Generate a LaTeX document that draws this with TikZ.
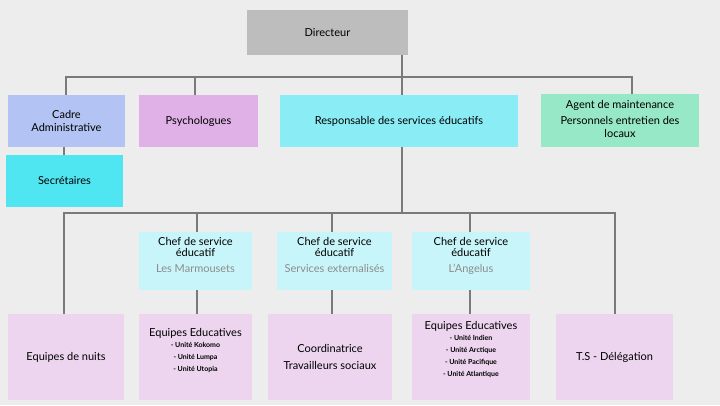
\documentclass[tikz,border=0pt]{standalone}
\usepackage{fontspec}
\setmainfont{Lato}
\definecolor{bg}{HTML}{EDEDED}
\definecolor{cdir}{HTML}{BDBDBD}
\definecolor{ccad}{HTML}{B3C3F3}
\definecolor{csec}{HTML}{4FE6F2}
\definecolor{cpsy}{HTML}{DFB1E6}
\definecolor{cres}{HTML}{8AEDF5}
\definecolor{cage}{HTML}{97E8C6}
\definecolor{cchef}{HTML}{C8F5F9}
\definecolor{cbot}{HTML}{EDD5F0}
\definecolor{cline}{HTML}{7A7A7A}
\definecolor{cgrey}{HTML}{8C8C8C}
\begin{document}
\begin{tikzpicture}[x=1pt,y=-1pt,
  ln/.style={draw=cline,line width=1.6pt}]
\fill[bg] (0,0) rectangle (720,405);
\useasboundingbox (0,0) rectangle (720,405);
\newcommand\bbox[7]{\fill[#6] (#2,#3) rectangle (#4,#5); \node[inner sep=0pt,align=center,font=\fontsize{11}{13}\selectfont] (#1) at ({(#2+#4)/2},{(#3+#5)/2}) {#7};}
\newcommand\unitf{\fontsize{7}{9}\selectfont\bfseries}
\draw[ln] (402,55) -- (402,77);
\draw[ln] (66,95) -- (66,77) -- (632,77) -- (632,94);
\draw[ln] (195,77) -- (195,95);
\draw[ln] (402,77) -- (402,95);
\draw[ln] (64,147) -- (64,155);
\draw[ln] (402,147) -- (402,213);
\draw[ln] (64,314) -- (64,213) -- (615,213) -- (615,314);
\draw[ln] (197,213) -- (197,314);
\draw[ln] (332,213) -- (332,314);
\draw[ln] (470,213) -- (470,314);
\bbox{dir}{247}{10}{408}{55}{cdir}{Directeur}
\bbox{cad}{8}{95}{125}{147}{ccad}{Cadre\\Administrative}
\bbox{sec}{6}{155}{123}{207}{csec}{Secrétaires}
\bbox{psy}{139}{95}{258}{147}{cpsy}{Psychologues}
\bbox{res}{280}{95}{518}{147}{cres}{Responsable des services éducatifs}
\fill[cage] (541,94) rectangle (699,147);
\node[inner sep=0pt,align=center,font=\fontsize{11}{13}\selectfont] (age) at (620,119) {Agent de maintenance\\[3pt]Personnels entretien des\\locaux};
\fill[cchef] (139,232) rectangle (252,290);
\node[inner sep=0pt,align=center,font=\fontsize{11}{11}\selectfont,anchor=north] (ch1) at (195.5,237) {Chef de service\\éducatif\\[5pt]\textcolor{cgrey}{Les Marmousets}};
\fill[cchef] (277,232) rectangle (392,290);
\node[inner sep=0pt,align=center,font=\fontsize{11}{11}\selectfont,anchor=north] (ch2) at (334.5,237) {Chef de service\\éducatif\\[5pt]\textcolor{cgrey}{Services externalisés}};
\fill[cchef] (412,232) rectangle (530,290);
\node[inner sep=0pt,align=center,font=\fontsize{11}{11}\selectfont,anchor=north] (ch3) at (471,237) {Chef de service\\éducatif\\[5pt]\textcolor{cgrey}{L'Angelus}};
\bbox{nuit}{8}{314}{124}{400}{cbot}{Equipes de nuits}
\fill[cbot] (139,314) rectangle (252,400);
\node[inner sep=0pt,align=center,anchor=north] (ee1) at (195.5,328) {\fontsize{11}{13}\selectfont Equipes Educatives\\[-1pt]\unitf - Unité Kokomo\\\unitf - Unité Lumpa\\\unitf - Unité Utopia};
\bbox{coo}{268}{314}{392}{400}{cbot}{Coordinatrice\\[4pt]Travailleurs sociaux}
\fill[cbot] (412,314) rectangle (530,400);
\node[inner sep=0pt,align=center,anchor=north] (ee2) at (471,321) {\fontsize{11}{13}\selectfont Equipes Educatives\\[-1pt]\unitf - Unité Indien\\\unitf - Unité Arctique\\\unitf - Unité Pacifique\\\unitf - Unité Atlantique};
\bbox{ts}{556}{314}{673}{400}{cbot}{T.S - Délégation}
\end{tikzpicture}
\end{document}
